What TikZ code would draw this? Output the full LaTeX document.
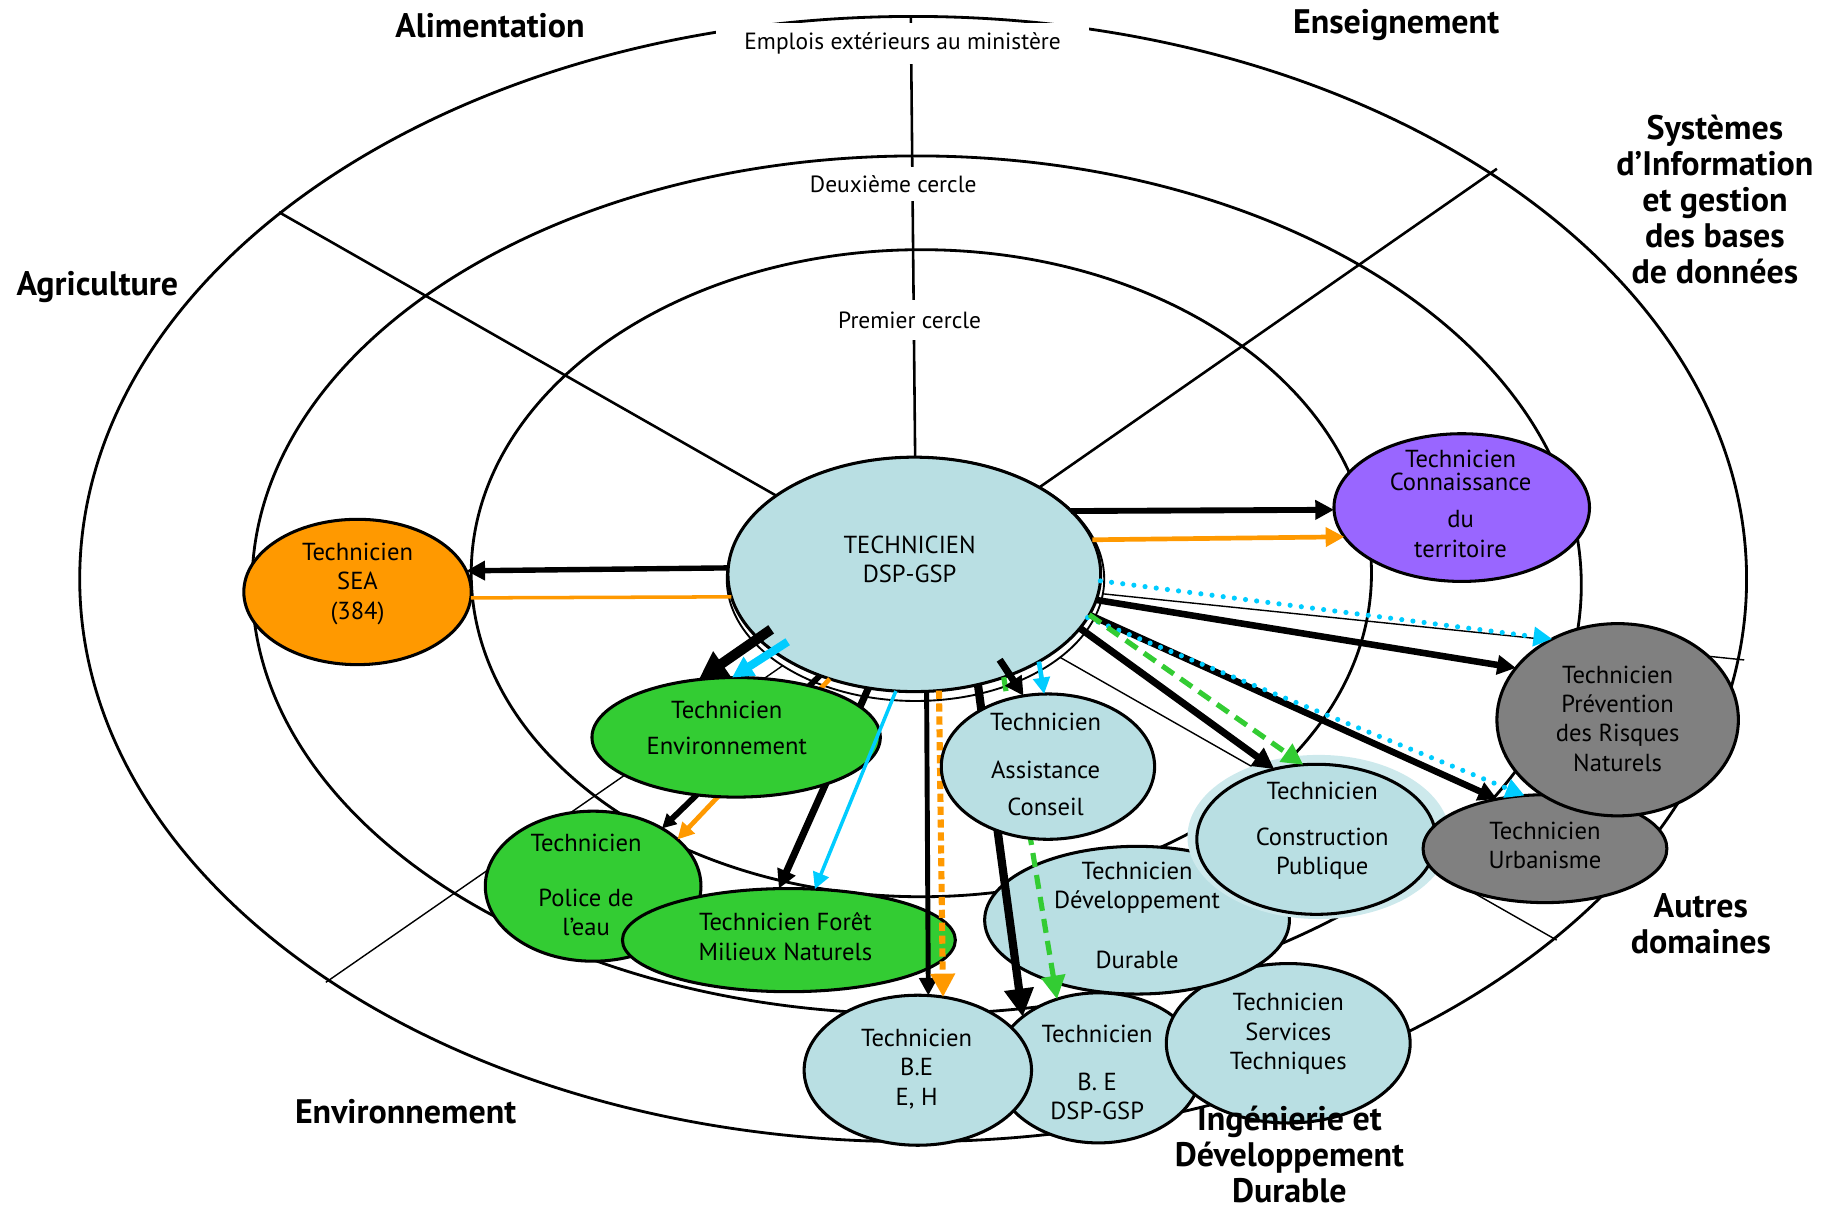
\documentclass[tikz,border=0pt]{standalone}
\usepackage{fontspec}
\setmainfont{PT Sans}
\usetikzlibrary{arrows.meta,shapes.geometric,calc}
\definecolor{cblue}{HTML}{B9DFE3}
\definecolor{cblueh}{HTML}{CDE9EC}
\definecolor{corange}{HTML}{FF9900}
\definecolor{cpurple}{HTML}{9966FF}
\definecolor{cgray}{HTML}{808080}
\definecolor{cgreen}{HTML}{33CC33}
\definecolor{ccyan}{HTML}{00CCFF}
\newcommand\mynode[9]{%
  \node[nell, fill=#6, minimum width=#4pt, minimum height=#5pt] (#1) at (#2,#3) {};
  \node[ntxt] (#1t) at (#7,#8) {#9};}
\begin{document}
\begin{tikzpicture}[x=0.5pt,y=-0.5pt,
  ring/.style={line width=1.2pt},
  divl/.style={line width=1.1pt},
  divt/.style={line width=0.6pt},
  nell/.style={ellipse, draw=black, line width=1.3pt, inner sep=0pt, outer sep=0pt},
  ntxt/.style={align=center, font=\fontsize{10.5}{12.5}\selectfont, inner sep=0pt},
  sect/.style={align=center, font=\fontsize{14.5}{15.3}\selectfont\bfseries, inner sep=0pt},
  circlbl/.style={fill=white, font=\fontsize{10}{12}\selectfont, inner ysep=3.5pt, inner xsep=6pt},
  arw/.style={-{Triangle[length=#1,width=#1]}},
  bdot/.style={draw=ccyan, line width=2.2pt, line cap=round, dash pattern=on 0pt off 4.8pt},
  gdash/.style={draw=cgreen, line width=2.2pt, dash pattern=on 6pt off 3.5pt},
  odash/.style={draw=corange, line width=2.6pt, dash pattern=on 3.5pt off 2pt}
]
\useasboundingbox (0,0) rectangle (1568,1035);
% rings
\draw[ring] (779,494) ellipse [x radius=711, y radius=480];
\draw[ring] (782,499) ellipse [x radius=567, y radius=366];
\draw[ring] (786,489) ellipse [x radius=384, y radius=276];
% dividers
\coordinate (dv1) at (777,13);
\coordinate (dv2) at (238,181);
\coordinate (dv3) at (1277,144);
\coordinate (dv4) at (1488,563);
\coordinate (dv5) at (1328,802);
\coordinate (dv6) at (278,838);
\coordinate (cc) at (780,490);
\draw[divl] (dv1) -- (781,420);
\draw[divl] (dv2) -- (cc);
\draw[divl] (dv3) -- (cc);
\draw[divt] (cc) -- (dv4);
\draw[divt] (cc) -- (dv5);
\draw[divt] (cc) -- (dv6);
% circle labels
\node[circlbl, inner xsep=12pt, inner ysep=4pt] (emp) at (770,37) {Emplois extérieurs au ministère};
\node[circlbl] (deux) at (762,157) {Deuxième cercle};
\node[circlbl, inner ysep=5pt] (prem) at (776,273) {Premier cercle};
% central
\node[ellipse, draw=black, line width=0.8pt, fill=white, inner sep=0pt,
      minimum width=161pt, minimum height=104pt] (cens) at (781,494) {};
\mynode{cen}{780}{490}{159}{100}{cblue}{776}{477}{TECHNICIEN\\DSP-GSP}
\mynode{sea}{305}{505}{97}{62}{corange}{305}{498}{Technicien\\SEA\\(384)}
\mynode{con}{1247}{433}{109}{63}{cpurple}{1246}{430}{Technicien\\[-2.5pt]Connaissance\\[3pt]du\\[0.5pt]territoire}
\mynode{pol}{506}{756}{92}{64}{cgreen}{500}{755}{Technicien\\[11pt]Police de\\l’eau}
\mynode{for}{673}{802}{142}{44}{cgreen}{670}{799}{Technicien Forêt\\Milieux Naturels}
\mynode{bed}{937}{911}{88}{64}{cblue}{936}{915}{Technicien\\[8pt]B. E\\DSP-GSP}
\mynode{ser}{1099}{890}{104}{68}{cblue}{1099}{882}{Technicien\\Services\\Techniques}
\mynode{beh}{783}{913}{97}{64}{cblue}{782}{912}{Technicien\\B.E\\E, H}
\mynode{dev}{970}{785}{130}{63}{cblue}{970}{781}{Technicien\\Développement\\[13pt]Durable}
\node[ellipse, fill=cblueh, inner sep=0pt, minimum width=112pt, minimum height=70pt] (consh) at (1125,714) {};
\mynode{cons}{1123}{716}{102}{64}{cblue}{1128}{709}{Technicien\\[7pt]Construction\\Publique}
\mynode{urb}{1318}{724}{104}{46}{cgray}{1318}{721}{Technicien\\Urbanisme}
\mynode{pre}{1380}{614}{103}{82}{cgray}{1380}{613}{Technicien\\Prévention\\des Risques\\Naturels}
% arrows passing under Assistance / Environnement
\draw[line width=3.5pt, arw=12pt] (cen.-60) -- (bed.146);
\draw[gdash, arw=10pt] (cen.-49.6) -- (bed.121.9);
\draw[line width=2.1pt, arw=7.5pt] (cen.-84.9) -- (beh.82.5);
\draw[odash, arw=10pt] (cen.-78.7) -- (beh.71.9);
\draw[line width=3pt, arw=8pt] (cen.248.2) -- (for.101.3);
\draw[line width=2.5pt, arw=6pt] (cen.227) -- (pol.40.4);
\draw[corange, line width=2pt, arw=7pt] (cen.231.3) -- (pol.29.6);
\mynode{ass}{894}{654}{91}{62}{cblue}{892}{652}{Technicien\\[8pt]Assistance\\[3pt]Conseil}
\mynode{env}{628}{629}{123}{51}{cgreen}{620}{621}{Technicien\\[3pt]Environnement}
% other arrows
\draw[line width=2.3pt, arw=8pt] (cen.178.6) -- (sea.11);
\draw[corange, line width=1.5pt] (sea.-3.6) -- (cen.187.7);
\draw[line width=2.5pt, arw=8pt] (cen.22.5) -- (con.181);
\draw[corange, line width=2pt, arw=8pt] (cen.11.6) -- (con.194.7);
\draw[line width=2.8pt, arw=8pt] (cen.-8.2) -- (pre.153.9);
\draw[bdot, arw=8pt] (cen.-2.5) -- (pre.129.6);
\draw[line width=2.8pt, arw=8pt] (cen.-13.2) -- (urb.134.3);
\draw[bdot, arw=8pt] (cen.-14.6) -- (urb.111);
\draw[line width=3pt, arw=9pt] (cen.-18.8) -- (cons.121.4);
\draw[gdash, arw=9pt] (cen.-13.7) -- (cons.100);
\draw[line width=3pt, arw=8pt] ($(cen.center)!0.86!(cen.-45)$) -- (ass.109.6);
\draw[ccyan, line width=2pt, arw=7pt] (cen.-35.9) -- (ass.93.3);
\draw[ccyan, line width=1.5pt, arw=7pt] (cen.261.4) -- (for.63.4);
\draw[line width=4.3pt, arw=12pt] ($(cen.center)!0.9!(cen.201.4)$) -- (env.123);
\draw[ccyan, line width=3.5pt, arw=9pt] ($(cen.center)!0.89!(cen.208.2)$) -- (env.94);
% sector labels
\node[sect] (alim) at (418,22) {Alimentation};
\node[sect] (ens) at (1191,21) {Enseignement};
\node[sect] (sys) at (1463,170) {Systèmes\\d’Information\\et gestion\\des bases\\de données};
\node[sect] (agri) at (83,245) {Agriculture};
\node[sect] (envl) at (346,948) {Environnement};
\node[sect] (autr) at (1451,788) {Autres\\domaines};
\node[sect] (ing) at (1100,985) {Ingénierie et\\Développement\\Durable};
\end{tikzpicture}
\end{document}
